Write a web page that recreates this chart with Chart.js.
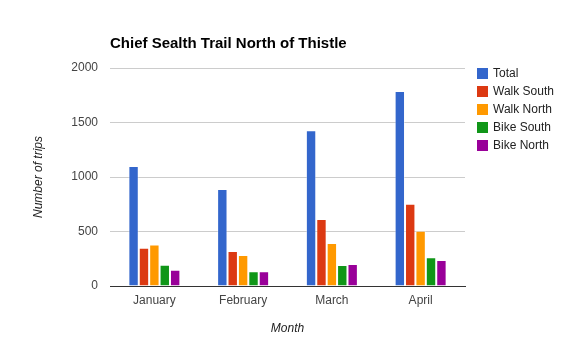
<!DOCTYPE html>
<html><head><meta charset="utf-8">
<script src="https://cdn.jsdelivr.net/npm/chart.js@4/dist/chart.umd.min.js"></script>
<style>html,body{margin:0;padding:0;background:#fff}#wrap{width:575px;height:355px;position:relative}</style>
</head><body><div id="wrap"><canvas id="c" width="575" height="355"></canvas></div>
<script>
const chartTitle = "Chief Sealth Trail North of Thistle";
const months = ["January", "February", "March", "April"];
const seriesNames = ["Total", "Walk South", "Walk North", "Bike South", "Bike North"];
const total = [1100, 890, 1430, 1790];
const walkSouth = [350, 320, 615, 755];
const walkNorth = [380, 285, 395, 508];
const bikeSouth = [195, 135, 193, 263];
const bikeNorth = [150, 135, 202, 239];
const yTicks = [0, 500, 1000, 1500, 2000];
const colors = ["#3366cc", "#dc3912", "#ff9900", "#109618", "#990099"];
const values = [total, walkSouth, walkNorth, bikeSouth, bikeNorth];

const FONT = "Arial, 'Liberation Sans', sans-serif";

const overlay = {
  id: 'overlay',
  afterDraw(chart) {
    const ctx = chart.ctx, ca = chart.chartArea;
    ctx.save();
    ctx.fillStyle = '#000';
    ctx.font = "bold 15px " + FONT;
    ctx.textAlign = 'left';
    ctx.textBaseline = 'alphabetic';
    ctx.fillText(chartTitle, ca.left, 47.5);
    // legend
    ctx.font = "12px " + FONT;
    ctx.textBaseline = 'middle';
    chart.data.datasets.forEach((ds, i) => {
      const cy = 73.5 + i * 18;
      ctx.fillStyle = ds.backgroundColor;
      ctx.fillRect(477, cy - 5.5, 11, 11);
      ctx.fillStyle = '#222';
      ctx.fillText(ds.label, 493, cy + 0.5);
    });
    ctx.restore();
  }
};

new Chart(document.getElementById('c'), {
  type: 'bar',
  data: {
    labels: months,
    datasets: seriesNames.map((n, i) => ({
      label: n,
      data: values[i],
      backgroundColor: colors[i],
      borderColor: 'rgba(255,255,255,0.4)',
      borderWidth: {left:1,right:1,top:1,bottom:0},
      categoryPercentage: 0.586,
      barPercentage: 1
    }))
  },
  options: {
    responsive: false,
    animation: false,
    devicePixelRatio: 1,
    layout: { padding: { top: 68, right: 110, left: 0, bottom: 0 } },
    plugins: { legend: { display: false }, title: { display: false }, tooltip: { enabled: false } },
    scales: {
      x: {
        afterFit(s) { s.height = 69; },
        grid: { display: false, drawTicks: false },
        border: { display: true, color: '#333', width: 1 },
        ticks: { color: '#444', font: { family: FONT, size: 12 }, padding: 7 },
        title: { display: true, text: 'Month', color: '#222', font: { family: FONT, size: 12, style: 'italic' }, padding: { top: 0, bottom: 19 } }
      },
      y: {
        min: 0, max: 2000,
        afterFit(s) { s.width = 110; },
        afterBuildTicks(s) { s.ticks = yTicks.map(v => ({ value: v })); },
        grid: { color: '#cccccc', drawTicks: false },
        border: { display: false },
        ticks: { color: '#444', font: { family: FONT, size: 12 }, padding: 12, callback: (v) => String(v) },
        title: { display: true, text: 'Number of trips', color: '#222', font: { family: FONT, size: 12, style: 'italic' }, padding: { top: 31, bottom: 0 } }
      }
    }
  },
  plugins: [overlay]
});
</script></body></html>
